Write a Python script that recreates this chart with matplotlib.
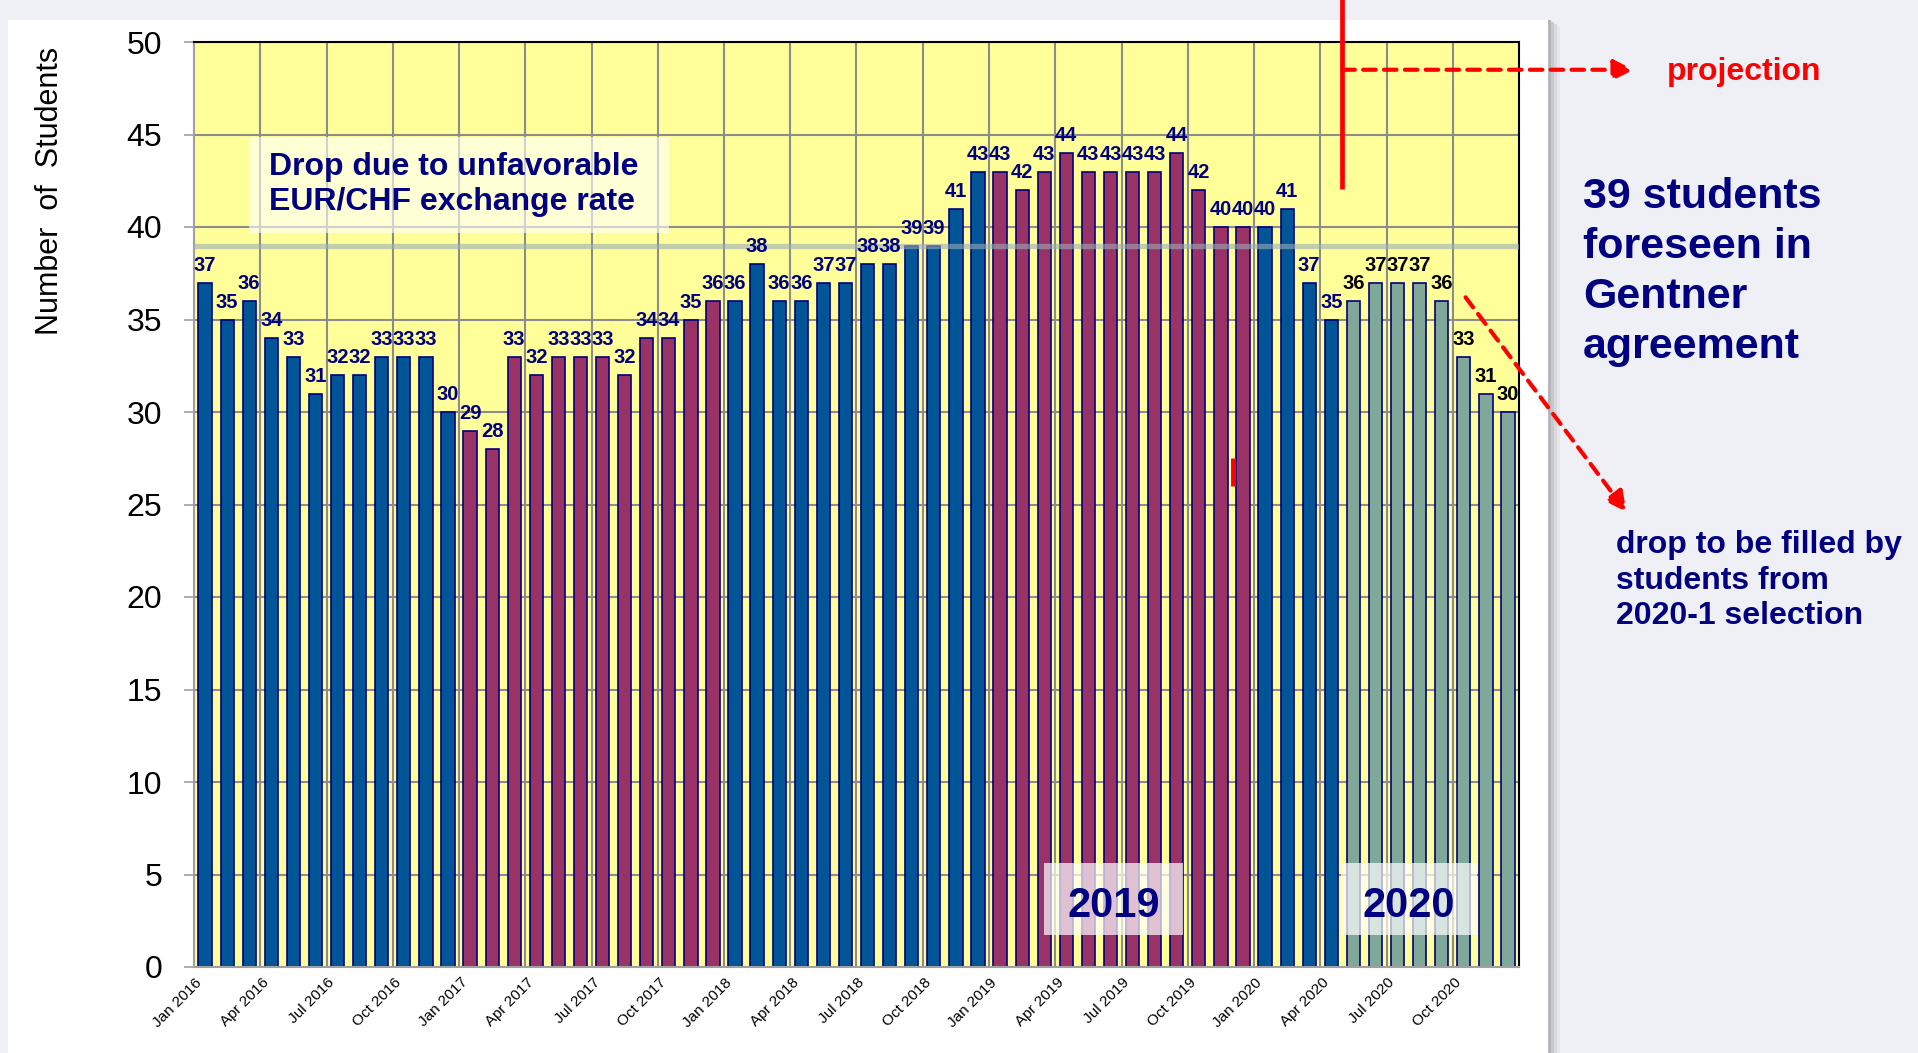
import numpy as np
import matplotlib.pyplot as plt
from matplotlib.patches import Rectangle

plt.rcParams['font.family'] = ['Liberation Sans', 'DejaVu Sans']

# monthly student counts, Jan 2016 .. Dec 2020
years = [2016, 2017, 2018, 2019, 2020]
months = ['Jan', 'Feb', 'Mar', 'Apr', 'May', 'Jun',
          'Jul', 'Aug', 'Sep', 'Oct', 'Nov', 'Dec']
students_2016 = [37, 35, 36, 34, 33, 31, 32, 32, 33, 33, 33, 30]
students_2017 = [29, 28, 33, 32, 33, 33, 33, 32, 34, 34, 35, 36]
students_2018 = [36, 38, 36, 36, 37, 37, 38, 38, 39, 39, 41, 43]
students_2019 = [43, 42, 43, 44, 43, 43, 43, 43, 44, 42, 40, 40]
students_2020 = [40, 41, 37, 35, 36, 37, 37, 37, 36, 33, 31, 30]
# bar group: 'a' / 'b' alternating years, 'p' projected
groups = (['a'] * 12 + ['b'] * 12 + ['a'] * 12 + ['b'] * 12
          + ['a'] * 4 + ['p'] * 8)
agreement = 39

values = students_2016 + students_2017 + students_2018 + students_2019 + students_2020
labels = [f'{m} {y}' for y in years for m in months]

bar_colors = {'a': '#005596', 'b': '#993366', 'p': '#80a898'}
text_colors = {'a': '#000080', 'b': '#000080', 'p': 'black'}
navy = '#000080'

W, H = 1918, 1053
fig = plt.figure(figsize=(W / 100, H / 100), dpi=100)
fig.patch.set_facecolor('#eff0f6')


def fx(px):
    return px / W


def fy(py):
    return 1 - py / H


# white slide panel with a soft shadow on the right
for i, a in enumerate([0.45, 0.3, 0.18, 0.08]):
    fig.patches.append(Rectangle((fx(1548 + 3 * i), 0), fx(3), fy(20 + 2 * i),
                                 transform=fig.transFigure, color='#707070',
                                 alpha=a, lw=0, zorder=-5))
fig.patches.append(Rectangle((fx(8), 0), fx(1540), fy(20),
                             transform=fig.transFigure, color='white',
                             lw=0, zorder=-5))

ax = fig.add_axes([fx(194), fy(967), fx(1519 - 194), (967 - 42) / H])
ax.set_zorder(1)
ax.set_facecolor('#ffff99')

x = np.arange(len(values))
ax.bar(x, values, width=0.6, color=[bar_colors[g] for g in groups],
       edgecolor=navy, linewidth=1.2, zorder=2)
for xi, v, g in zip(x, values, groups):
    ax.annotate(str(v), (xi, v), xytext=(0, 8.5), textcoords='offset points',
                ha='center', va='baseline', fontsize=14.5, fontweight='bold',
                color=text_colors[g], zorder=4)

ax.set_xlim(-0.5, len(values) - 0.5)
ax.set_ylim(0, 50)
ax.set_yticks(range(0, 51, 5))
ax.set_xticks(x[::3])
ax.set_xticklabels(labels[::3], rotation=45, ha='right', fontsize=11)
ax.set_xticks(np.arange(2.5, len(values) - 1, 3), minor=True)
ax.tick_params(axis='x', which='both', length=0, pad=6)
ax.tick_params(axis='y', labelsize=23, length=7, width=1.2, color='#a0a0a0', pad=16)

ax.set_axisbelow(True)
ax.yaxis.grid(True, color='#8c8c8c', lw=1.5)
ax.xaxis.grid(True, which='minor', color='#8c8c8c', lw=1.5)
ax.xaxis.grid(False, which='major')
for side in ['top', 'right']:
    ax.spines[side].set_color('black')
    ax.spines[side].set_linewidth(1.5)
for side in ['left', 'bottom']:
    ax.spines[side].set_color('#a0a0a0')
    ax.spines[side].set_linewidth(1.5)

# Gentner agreement level
ax.axhline(agreement, color='#9badb8', alpha=0.6, lw=3.8, zorder=3)

# note box top-left
ax.add_patch(Rectangle((2.0, 39.7), 19.0, 5.15, color='white', alpha=0.6,
                       lw=0, zorder=3))
ax.text(2.9, 42.3, 'Drop due to unfavorable\nEUR/CHF exchange rate',
        fontsize=23, fontweight='bold', color=navy, ha='left', va='center',
        linespacing=1.2, zorder=4)

# year boxes
for x0, x1, yr in [(38.0, 44.3, '2019'), (51.45, 57.6, '2020')]:
    ax.add_patch(Rectangle((x0, 1.73), x1 - x0, 3.9, color='white', alpha=0.7,
                           lw=0, zorder=3))
    ax.text((x0 + x1) / 2, 3.3, yr, fontsize=30, fontweight='bold', color=navy,
            ha='center', va='center', zorder=4)

# small red marker
ax.plot([46.57, 46.57], [26.0, 27.5], color='red', lw=3.5, zorder=4,
        solid_capstyle='butt')

# projection marker and arrows
ax.plot([51.5, 51.5], [42.05, 52.3], color='red', lw=3.4, clip_on=False,
        zorder=5, solid_capstyle='butt')
ax.annotate('', xy=(64.7, 48.5), xytext=(51.5, 48.5), annotation_clip=False,
            arrowprops=dict(arrowstyle='-|>', color='red', lw=3,
                            linestyle=(0, (3, 2)), mutation_scale=30,
                            shrinkA=0, shrinkB=0), zorder=5)
ax.annotate('', xy=(64.37, 24.6), xytext=(57.08, 36.2), annotation_clip=False,
            arrowprops=dict(arrowstyle='-|>', color='red', lw=3,
                            linestyle=(0, (3, 2)), mutation_scale=30,
                            shrinkA=0, shrinkB=0), zorder=5)

fig.text(fx(1667), fy(72), 'projection', fontsize=23, fontweight='bold',
         color='red', ha='left', va='center')
fig.text(fx(1583), fy(177), '39 students\nforeseen in\nGentner\nagreement',
         fontsize=31, fontweight='bold', color=navy, ha='left', va='top',
         linespacing=1.32)
fig.text(fx(1616), fy(530), 'drop to be filled by\nstudents from\n2020-1 selection',
         fontsize=23, fontweight='bold', color=navy, ha='left', va='top',
         linespacing=1.24)

fig.text(fx(50), fy(191), 'Number  of  Students', fontsize=22, rotation=90,
         ha='center', va='center')

plt.savefig('out.png', dpi=100, facecolor=fig.get_facecolor())
